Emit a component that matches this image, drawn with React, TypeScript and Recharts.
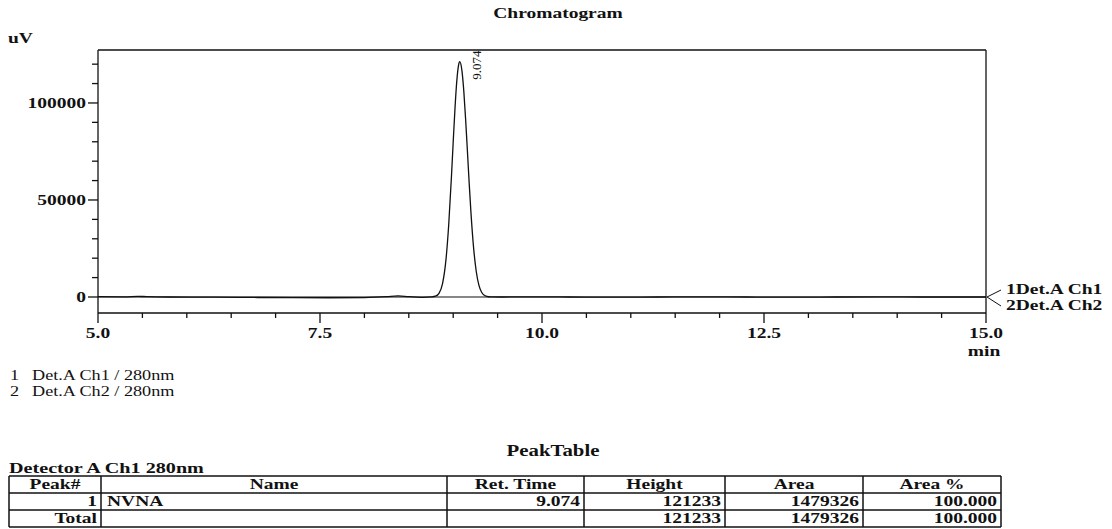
import { LineChart, Line, XAxis, YAxis, ReferenceLine, ReferenceDot } from 'recharts';

// Det.A Ch1 trace (min, uV)
const CH1_TIME = [5.0, 5.3, 5.45, 5.55, 5.8, 6.3, 6.8, 7.2, 7.6, 8.0, 8.25, 8.38, 8.5, 8.65, 8.76, 8.8, 8.84, 8.88, 8.92, 8.95, 8.98, 9.0, 9.02, 9.04, 9.06, 9.074, 9.1, 9.12, 9.14, 9.16, 9.18, 9.2, 9.23, 9.26, 9.29, 9.32, 9.36, 9.4, 9.45, 9.55, 9.8, 10.3, 10.8, 11.3, 11.8, 12.3, 12.8, 13.3, 13.8, 14.3, 15.0];
const CH1_UV = [150, 100, 350, 150, 0, -50, -250, -350, -400, -300, 150, 600, 150, -150, 70, 400, 1870, 6900, 19900, 37600, 61800, 79900, 97100, 111000, 119400, 121233, 116000, 105700, 91500, 75200, 58700, 43500, 25200, 13000, 6000, 2450, 620, 130, 30, 0, 50, 0, -100, 0, 100, 0, -50, 0, 50, 0, 0];

// Det.A Ch2 trace, flat
const CH2_TIME = [5.0, 7.5, 10.0, 12.5, 15.0];
const CH2_UV = [0, 0, 0, 0, 0];

const X_TICKS = [5.0, 5.5, 6.0, 6.5, 7.0, 7.5, 8.0, 8.5, 9.0, 9.5, 10.0, 10.5, 11.0, 11.5, 12.0, 12.5, 13.0, 13.5, 14.0, 14.5, 15.0];
const Y_TICKS = [0, 10000, 20000, 30000, 40000, 50000, 60000, 70000, 80000, 90000, 100000, 110000, 120000];

const PEAK_TIME = 9.074;
const PEAK_HEIGHT = 121233;
const LEGEND_LABELS = ['1Det.A Ch1', '2Det.A Ch2'];
const FOOTER_LABELS = ['Det.A Ch1 / 280nm', 'Det.A Ch2 / 280nm'];

const TABLE_HEADERS = ['Peak#', 'Name', 'Ret. Time', 'Height', 'Area', 'Area %'];
const TABLE_ROWS = [
  ['1', 'NVNA', '9.074', '121233', '1479326', '100.000'],
  ['Total', '', '', '121233', '1479326', '100.000'],
];

const X_DOMAIN = [5, 15];
const Y_DOMAIN = [-8250, 127300];

const FONT = "'Liberation Serif', 'Times New Roman', serif";
const SX = 1.3;
const INK = '#111';

function St({ x, y, anchor = 'start', size = 15, bold = true, children }: any) {
  return (
    <text
      transform={`translate(${x} ${y}) scale(${SX} 1)`}
      textAnchor={anchor}
      fontSize={size}
      fontWeight={bold ? 700 : 400}
      fontFamily={FONT}
      fill={INK}
    >
      {children}
    </text>
  );
}

function XTick({ x, y, payload }: any) {
  const v = payload.value;
  const major = Math.abs(v / 2.5 - Math.round(v / 2.5)) < 1e-6;
  return (
    <g>
      <line x1={x} y1={y} x2={x} y2={y + (major ? 10 : 5)} stroke={INK} strokeWidth={1.3} />
      {major && <St x={x} y={y + 25} anchor="middle">{v.toFixed(1)}</St>}
    </g>
  );
}

function YTick({ x, y, payload }: any) {
  const v = payload.value;
  const major = v % 50000 === 0;
  return (
    <g>
      <line x1={x - (major ? 10 : 6)} y1={y} x2={x} y2={y} stroke={INK} strokeWidth={1.3} />
      {major && <St x={x - 12} y={y + 5} anchor="end">{String(v)}</St>}
    </g>
  );
}

function PeakLabel({ cx, cy }: any) {
  return (
    <text
      transform={`translate(${cx + 21} ${cy + 18}) rotate(-90)`}
      fontSize={13}
      fontFamily={FONT}
      fill={INK}
    >
      {PEAK_TIME.toFixed(3)}
    </text>
  );
}

function ChannelTags({ cx, cy }: any) {
  return (
    <g>
      <line x1={cx + 1} y1={cy} x2={cx + 15} y2={cy - 7} stroke={INK} strokeWidth={1} />
      <line x1={cx + 1} y1={cy} x2={cx + 15} y2={cy + 9} stroke={INK} strokeWidth={1} />
      <St x={cx + 20} y={cy - 3}>{LEGEND_LABELS[0]}</St>
      <St x={cx + 20} y={cy + 13}>{LEGEND_LABELS[1]}</St>
    </g>
  );
}

const COL_X = [9, 101, 447, 584, 725, 863, 1001];
const ROW_Y = [476, 493, 510, 527];

function PeakTable() {
  const cellText = (txt: string, r: number, c: number) => {
    const base = ROW_Y[r] + 13;
    if (r === 0) {
      return <St key={`h${c}`} x={(COL_X[c] + COL_X[c + 1]) / 2} y={base} anchor="middle">{txt}</St>;
    }
    if (c === 1) {
      return <St key={`${r}-${c}`} x={COL_X[c] + 6} y={base}>{txt}</St>;
    }
    return <St key={`${r}-${c}`} x={COL_X[c + 1] - 4} y={base} anchor="end">{txt}</St>;
  };
  return (
    <g>
      {ROW_Y.map((y, i) => (
        <line key={`r${i}`} x1={COL_X[0]} y1={y} x2={COL_X[6]} y2={y} stroke={INK} strokeWidth={1.5} />
      ))}
      {COL_X.map((x, i) => (
        <line key={`c${i}`} x1={x} y1={ROW_Y[0]} x2={x} y2={ROW_Y[3]} stroke={INK} strokeWidth={1.5} />
      ))}
      {TABLE_HEADERS.map((h, c) => cellText(h, 0, c))}
      {TABLE_ROWS.map((row, r) => row.map((v, c) => cellText(v, r + 1, c)))}
    </g>
  );
}

export default function App() {
  const ch1 = CH1_TIME.map((t, i) => ({ t, uv: CH1_UV[i] }));
  const ch2 = CH2_TIME.map((t, i) => ({ t, uv: CH2_UV[i] }));

  return (
    <div style={{ position: 'absolute', left: 0, top: 0, width: 1112, height: 529, background: '#fff', overflow: 'hidden' }}>
      <LineChart width={1112} height={529} margin={{ top: 50, right: 126, bottom: 186, left: 38 }}>
        <XAxis
          dataKey="t"
          type="number"
          domain={X_DOMAIN}
          ticks={X_TICKS}
          interval={0}
          height={30}
          allowDataOverflow
          axisLine={{ stroke: INK, strokeWidth: 1.3 }}
          tickLine={false}
          tickSize={0}
          tickMargin={0}
          tick={<XTick />}
        />
        <YAxis
          type="number"
          domain={Y_DOMAIN}
          ticks={Y_TICKS}
          interval={0}
          width={60}
          allowDataOverflow
          axisLine={{ stroke: INK, strokeWidth: 1.3 }}
          tickLine={false}
          tickSize={0}
          tickMargin={0}
          tick={<YTick />}
        />
        <ReferenceLine y={Y_DOMAIN[1]} stroke={INK} strokeWidth={1.3} />
        <ReferenceLine x={X_DOMAIN[1]} stroke={INK} strokeWidth={1.3} />
        <Line data={ch2} dataKey="uv" type="monotone" stroke={INK} strokeWidth={1.2} dot={false} isAnimationActive={false} />
        <Line data={ch1} dataKey="uv" type="monotone" stroke={INK} strokeWidth={1.3} dot={false} isAnimationActive={false} />
        <ReferenceDot x={PEAK_TIME} y={PEAK_HEIGHT} r={0} shape={<PeakLabel />} />
        <ReferenceDot x={X_DOMAIN[1]} y={0} r={0} shape={<ChannelTags />} />
      </LineChart>

      <svg width={1112} height={529} style={{ position: 'absolute', left: 0, top: 0, pointerEvents: 'none' }}>
        <St x={558} y={18} anchor="middle">Chromatogram</St>
        <St x={8} y={43}>uV</St>
        <St x={984} y={356} anchor="middle">min</St>
        {FOOTER_LABELS.map((f, i) => (
          <g key={f}>
            <St x={10} y={380 + i * 16} size={14} bold={false}>{String(i + 1)}</St>
            <St x={32} y={380 + i * 16} size={14} bold={false}>{f}</St>
          </g>
        ))}
        <St x={553} y={456} anchor="middle" size={16}>PeakTable</St>
        <St x={9} y={473} size={15.5}>Detector A Ch1 280nm</St>
        <PeakTable />
      </svg>
    </div>
  );
}
